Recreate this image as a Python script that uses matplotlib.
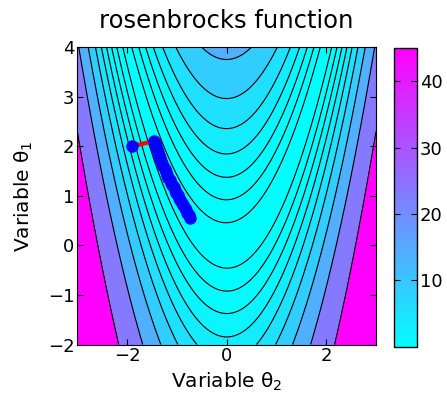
import numpy as np
import matplotlib
matplotlib.use("Agg")
import matplotlib.pyplot as plt
from matplotlib import colors, cm

plt.rcParams["font.family"] = ["DejaVu Sans"]
plt.rcParams["mathtext.default"] = "regular"

# surface grid (theta2 across, theta1 up)
theta2 = np.linspace(-3, 3, 401)
theta1 = np.linspace(-2, 4, 401)

# contour levels, top one is the colorbar max
levels = [0.22, 0.86, 1.9, 3.42, 5.57, 8.8, 14.1, 23.5, 45.0]

# descent path
path_t2 = [-1.90, -1.45, -1.44, -1.41, -1.39, -1.37, -1.35, -1.33, -1.31, -1.29,
           -1.27, -1.24, -1.22, -1.19, -1.17, -1.14, -1.12, -1.09, -1.06, -1.04,
           -1.01, -0.98, -0.96, -0.93, -0.90, -0.87, -0.84, -0.81, -0.79, -0.76, -0.73]
path_t1 = [2.00, 2.11, 2.06, 2.00, 1.94, 1.88, 1.82, 1.76, 1.70, 1.65,
           1.60, 1.54, 1.48, 1.42, 1.37, 1.32, 1.27, 1.22, 1.17, 1.11,
           1.06, 1.01, 0.96, 0.91, 0.86, 0.81, 0.76, 0.71, 0.66, 0.61, 0.56]

xticks = [-2, 0, 2]
yticks = [-2, -1, 0, 1, 2, 3, 4]
cbar_ticks = [10, 20, 30, 40]

T2, T1 = np.meshgrid(theta2, theta1)
Z = ((1 - T2) ** 2 + 100 * (T1 - T2 ** 2) ** 2) / 100

cmap = plt.cm.cool
norm = colors.Normalize(0, levels[-1])
bounds = [0] + levels + [Z.max() + 1]
fill_colors = [cmap(norm(b)) for b in bounds[:-1]]

fig = plt.figure(figsize=(4.47, 3.98), dpi=100)
ax = fig.add_axes([0.173, 0.1344, 0.668, 0.7468])
cax = fig.add_axes([0.8814, 0.1289, 0.0521, 0.7497])

ax.contourf(T2, T1, Z, levels=bounds, colors=fill_colors)
ax.contour(T2, T1, Z, levels=levels, colors="k", linewidths=0.8)

ax.plot(path_t2[:2], path_t1[:2], "-", color="red", lw=3)
ax.plot(path_t2, path_t1, "o", color="blue", ms=9, mec="none")

ax.set_xlim(-3, 3)
ax.set_ylim(-2, 4)
ax.set_xticks(xticks)
ax.set_yticks(yticks)
ax.tick_params(direction="in", top=True, right=True, labelsize=13, length=4, pad=2)
ax.set_xlabel("Variable θ$_2$", fontsize=14.5, labelpad=4)
ax.set_ylabel("Variable θ$_1$", fontsize=14.5, labelpad=9)
ax.set_title("rosenbrocks function", fontsize=17.5, pad=14)

cb = fig.colorbar(cm.ScalarMappable(norm=norm, cmap=cmap), cax=cax, ticks=cbar_ticks)
cax.tick_params(direction="in", left=True, right=True, labelsize=13, length=4, pad=2)
cb.outline.set_linewidth(1)

fig.savefig("out.png", dpi=100)
